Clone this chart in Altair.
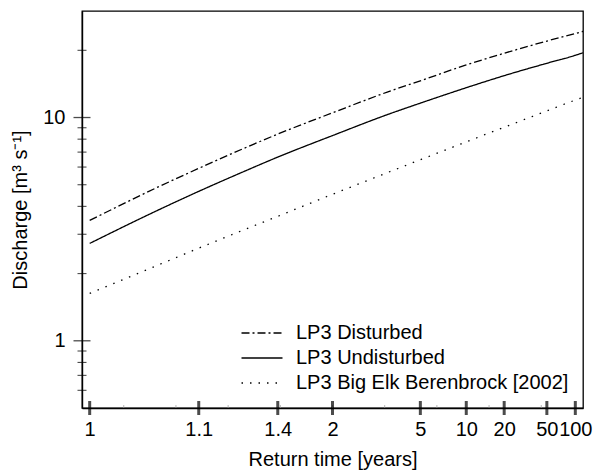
import altair as alt
import pandas as pd
from statistics import NormalDist

# Non-exceedance probability of each plotted point (return time T = 1 / (1 - p))
prob = [0.01, 0.05, 0.1, 0.2, 0.3, 0.5, 0.7, 0.8, 0.9, 0.95, 0.98, 0.99, 0.9918]

# Flood-frequency curves, discharge in m3/s
disturbed = [3.46, 4.95, 5.92, 7.3, 8.43, 10.5, 13.0, 14.6, 17.2, 19.4, 22.0, 23.8, 24.3]
undisturbed = [2.73, 3.90, 4.67, 5.75, 6.65, 8.3, 10.3, 11.6, 13.6, 15.4, 17.5, 19.0, 19.5]
big_elk = [1.63, 2.21, 2.60, 3.15, 3.61, 4.53, 5.66, 6.47, 7.78, 9.05, 10.7, 11.97, 12.3]

series_names = ["LP3 Disturbed", "LP3 Undisturbed", "LP3 Big Elk Berenbrock [2002]"]

# Return-time axis (normal probability scale)
tick_prob = [0.01, 0.1, 0.3, 0.5, 0.8, 0.9, 0.95, 0.98, 0.99]
tick_labels = ["1", "1.1", "1.4", "2", "5", "10", "20", "50", "100"]
minor_x = [-2.0, -1.5, -1.0, -0.5, 0.0, 0.5, 1.0, 1.5, 2.0]

# Discharge axis (log scale)
major_y = [1, 10]
minor_y = [0.6, 0.7, 0.8, 0.9, 2, 3, 4, 5, 6, 7, 8, 9, 20]

nd = NormalDist()
z = [nd.inv_cdf(p) for p in prob]
tick_z = [nd.inv_cdf(p) for p in tick_prob]

rows = []
for name, vals in zip(series_names, [disturbed, undisturbed, big_elk]):
    for zi, v in zip(z, vals):
        rows.append({"series": name, "z": zi, "q": v})
df = pd.DataFrame(rows)

W, H = 501, 397
FONT = "Liberation Sans"

# label lookup for the probability ticks
label_expr = ""
for tz, lab in zip(tick_z, tick_labels):
    label_expr += f"abs(datum.value - ({tz:.5f})) < 0.001 ? '{lab}' : "
label_expr += "''"

x_scale = alt.Scale(domain=[-2.4, 2.4], nice=False, zero=False)
y_scale = alt.Scale(type="log", domain=[0.5, 30], nice=False)

lines = alt.Chart(df).mark_line(color="black", strokeWidth=1.3, clip=True,
                                interpolate="monotone").encode(
    x=alt.X("z:Q", scale=x_scale,
            axis=alt.Axis(values=tick_z, labelExpr=label_expr, ticks=False, grid=False,
                          labelOverlap=False, labelFlush=False, labelPadding=11,
                          title="Return time [years]", titlePadding=10)),
    y=alt.Y("q:Q", scale=y_scale,
            axis=alt.Axis(values=major_y, format="d", ticks=False, grid=False,
                          labelPadding=17, title="Discharge [m³ s⁻¹]", titlePadding=12)),
    strokeDash=alt.StrokeDash(
        "series:N",
        scale=alt.Scale(domain=series_names, range=[[8, 3, 2, 3], [1, 0], [1.5, 7]]),
        legend=alt.Legend(title=None, orient="none", legendX=169, legendY=311,
                          symbolType="M-2,0H2", symbolSize=420, symbolStrokeWidth=1.3,
                          symbolStrokeColor="black", labelFontSize=20, labelFont=FONT,
                          labelColor="black", labelOffset=23, labelLimit=0,
                          rowPadding=4, padding=0),
    ),
)

xt_major = alt.Chart(pd.DataFrame({"z": tick_z})).mark_tick(
    color="black", size=14, thickness=3
).encode(x=alt.X("z:Q", scale=x_scale), y=alt.value(H))

xt_minor = alt.Chart(pd.DataFrame({"z": minor_x})).mark_tick(
    color="#999999", size=3, thickness=1
).encode(x=alt.X("z:Q", scale=x_scale), y=alt.value(H - 1.5))

yt_major = alt.Chart(pd.DataFrame({"q": major_y})).mark_tick(
    color="black", size=17, thickness=1.3
).encode(y=alt.Y("q:Q", scale=y_scale), x=alt.value(0))

yt_minor = alt.Chart(pd.DataFrame({"q": minor_y})).mark_tick(
    color="black", size=9, thickness=1.1
).encode(y=alt.Y("q:Q", scale=y_scale), x=alt.value(0))

chart = alt.layer(lines, xt_minor, xt_major, yt_minor, yt_major).properties(
    width=W, height=H,
    background="white",
    autosize=alt.AutoSizeParams(type="none"),
    padding={"left": 82, "top": 11, "right": 10, "bottom": 64},
).configure_view(
    stroke="black", strokeWidth=1.3
).configure_axis(
    domainColor="black", domainWidth=1.4, labelColor="black", titleColor="black",
    labelFont=FONT, titleFont=FONT, labelFontSize=20, titleFontSize=20,
    titleFontWeight="normal",
)

chart.save("out.html", embed_options={"renderer": "svg", "actions": False})
